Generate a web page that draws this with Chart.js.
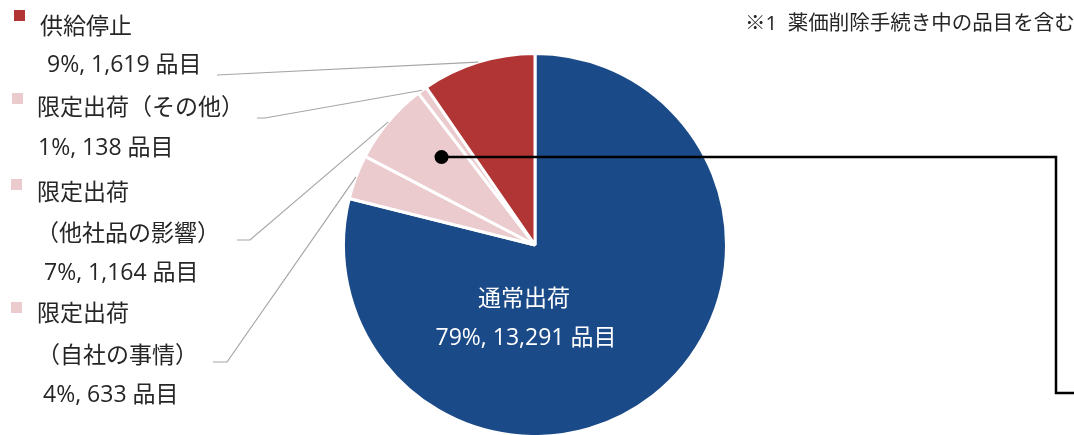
<!DOCTYPE html>
<html>
<head>
<meta charset="utf-8">
<script src="https://cdn.jsdelivr.net/npm/chart.js"></script>
<style>
  html, body { margin: 0; padding: 0; background: #fff; }
  #wrap { width: 1074px; height: 435px; position: relative; }
</style>
</head>
<body>
<div id="wrap"><canvas id="chart" width="1074" height="435"></canvas></div>
<script>
// order = clockwise from 12 o'clock
const categories = [
  "通常出荷",
  "限定出荷（自社の事情）",
  "限定出荷（他社品の影響）",
  "限定出荷（その他）",
  "供給停止",
];
const counts = [13291, 633, 1164, 138, 1619];
const percentLabels = ["79%", "4%", "7%", "1%", "9%"];
const countLabels = ["13,291", "633", "1,164", "138", "1,619"];
const unit = "品目";
const note = "※1  薬価削除手続き中の品目を含む";

const colors = ["#1b4a88", "#ebcbcd", "#ebcbcd", "#ebcbcd", "#b23535"];
const FONT = '"Open Sans", "Noto Sans CJK JP", sans-serif';

// where each outside label sits (index into categories)
const outside = [
  { i: 4, sq: [14, 10], lines: [[40, 27, "供給停止"], [47, 65, "value"]], leader: [[217, 75]] },
  { i: 3, sq: [12, 93], lines: [[37, 108, "限定出荷（その他）"], [38, 148, "value"]], leader: [[257, 118], [265, 118]] },
  { i: 2, sq: [11, 179], lines: [[37, 193, "限定出荷"], [36, 234, "（他社品の影響）"], [44, 273, "value"]], leader: [[237, 240], [250, 240]] },
  { i: 1, sq: [11, 302], lines: [[37, 314, "限定出荷"], [37, 356, "（自社の事情）"], [43, 395, "value"]], leader: [[213, 362], [227, 362]] },
];

const valueText = (i) => percentLabels[i] + ", " + countLabels[i] + " " + unit;

const labelsPlugin = {
  id: "pieLabels",
  afterDraw(chart) {
    const ctx = chart.ctx;
    const arcs = chart.getDatasetMeta(0).data;
    ctx.save();
    ctx.textBaseline = "middle";

    // leader lines
    ctx.strokeStyle = "#a6a6a6";
    ctx.lineWidth = 1.2;
    outside.forEach((o) => {
      const a = arcs[o.i];
      const mid = (a.startAngle + a.endAngle) / 2;
      ctx.beginPath();
      ctx.moveTo(o.leader[0][0], o.leader[0][1]);
      o.leader.slice(1).forEach((p) => ctx.lineTo(p[0], p[1]));
      ctx.lineTo(a.x + Math.cos(mid) * a.outerRadius, a.y + Math.sin(mid) * a.outerRadius);
      ctx.stroke();
    });

    // outside labels + colour squares
    ctx.font = "23px " + FONT;
    outside.forEach((o) => {
      ctx.fillStyle = colors[o.i];
      ctx.fillRect(o.sq[0], o.sq[1], 11, 11);
      ctx.fillStyle = "#262626";
      o.lines.forEach(([x, y, t]) => {
        ctx.fillText(t === "value" ? valueText(o.i) : t, x, y);
      });
    });

    // label inside the big slice
    ctx.fillStyle = "#ffffff";
    ctx.textAlign = "center";
    ctx.fillText(categories[0], 524, 299);
    ctx.fillText(valueText(0), 526, 338);

    // note
    ctx.textAlign = "left";
    ctx.fillStyle = "#262626";
    ctx.font = "20.5px " + FONT;
    ctx.fillText(note, 745, 24);

    // callout from 他社品 slice
    const s = arcs[2];
    const ang = s.startAngle + 0.63 * (s.endAngle - s.startAngle);
    const dx = s.x + Math.cos(ang) * s.outerRadius * 0.67;
    const dy = s.y + Math.sin(ang) * s.outerRadius * 0.67;
    ctx.strokeStyle = "#000";
    ctx.lineWidth = 2.5;
    ctx.beginPath();
    ctx.moveTo(dx, dy);
    ctx.lineTo(1056, dy);
    ctx.lineTo(1056, 393);
    ctx.lineTo(1074, 393);
    ctx.stroke();
    ctx.fillStyle = "#000";
    ctx.beginPath();
    ctx.arc(dx, dy, 7, 0, Math.PI * 2);
    ctx.fill();

    ctx.restore();
  },
};

new Chart(document.getElementById("chart"), {
  type: "pie",
  data: {
    labels: categories,
    datasets: [
      {
        data: counts,
        backgroundColor: colors,
        borderColor: "#ffffff",
        borderWidth: 3,
        radius: 191.5,
      },
    ],
  },
  options: {
    responsive: false,
    animation: false,
    layout: { padding: { top: 55, bottom: 0, left: 343, right: 347 } },
    plugins: {
      legend: { display: false },
      tooltip: { enabled: false },
    },
  },
  plugins: [labelsPlugin],
});
</script>
</body>
</html>
